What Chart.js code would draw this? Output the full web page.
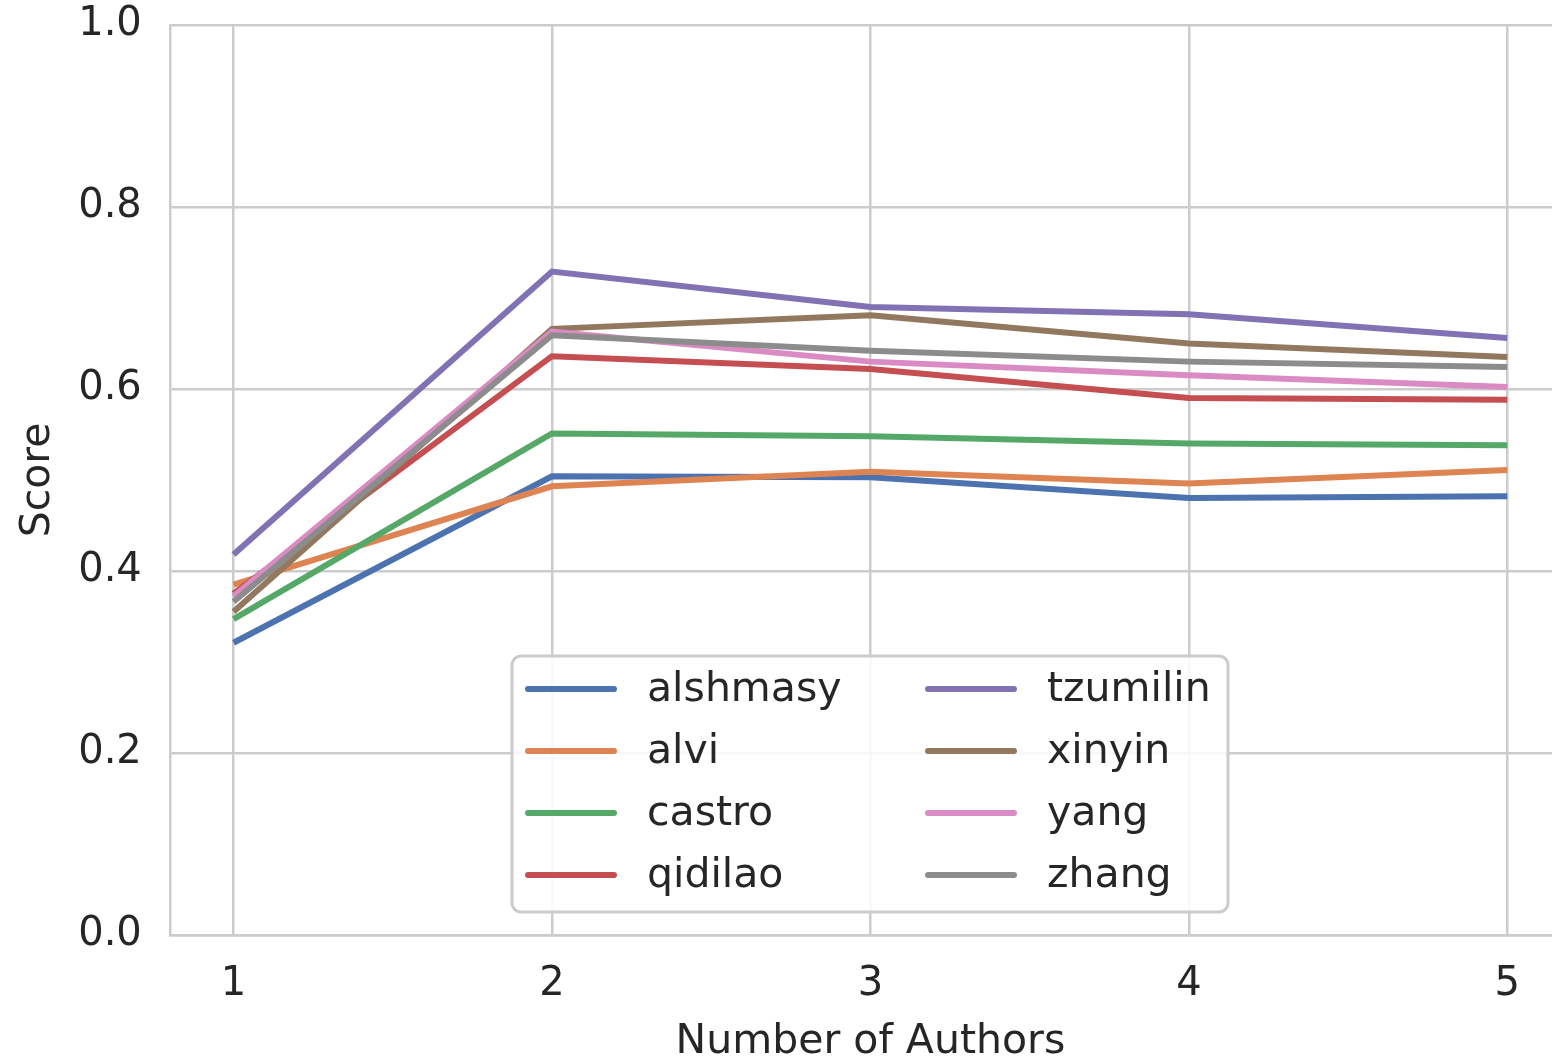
<!DOCTYPE html>
<html>
<head>
<meta charset="utf-8">
<script src="https://cdn.jsdelivr.net/npm/chart.js@4.4.1/dist/chart.umd.min.js"></script>
<style>
  html, body { margin: 0; padding: 0; background: #fff; overflow: hidden; }
  #wrap { width: 1552px; height: 1060px; overflow: hidden; position: relative; }
  #chart { position: absolute; left: 0; top: -27px; }
</style>
</head>
<body>
<div id="wrap"><canvas id="chart" width="1600" height="1094"></canvas></div>
<script>
// number of authors (x axis)
const authorCounts = [1, 2, 3, 4, 5];
const yTicks = [0, 0.2, 0.4, 0.6, 0.8, 1.0];

// score per author count
const alshmasy = [0.321, 0.504, 0.503, 0.480, 0.482];
const alvi     = [0.385, 0.493, 0.509, 0.496, 0.511];
const castro   = [0.347, 0.551, 0.548, 0.540, 0.538];
const qidilao  = [0.375, 0.636, 0.622, 0.590, 0.588];
const tzumilin = [0.418, 0.729, 0.690, 0.682, 0.656];
const xinyin   = [0.355, 0.666, 0.681, 0.650, 0.635];
const yang     = [0.372, 0.663, 0.630, 0.615, 0.602];
const zhang    = [0.366, 0.659, 0.642, 0.630, 0.624];

const seriesNames = ['alshmasy', 'alvi', 'castro', 'qidilao', 'tzumilin', 'xinyin', 'yang', 'zhang'];
const seriesValues = [alshmasy, alvi, castro, qidilao, tzumilin, xinyin, yang, zhang];
const colors = ['#4C72B0', '#DD8452', '#55A868', '#C44E52', '#8172B3', '#937860', '#DA8BC3', '#8C8C8C'];

const FONT = "'DejaVu Sans', sans-serif";
const TEXT = '#262626';
const GRID = '#cccccc';

const datasets = seriesNames.map((name, i) => ({
  label: name,
  data: authorCounts.map((x, j) => ({ x: x, y: seriesValues[i][j] })),
  borderColor: colors[i],
  backgroundColor: colors[i],
  borderWidth: 6,
  pointRadius: 0,
  tension: 0,
  order: seriesNames.length - i // later series drawn on top, like matplotlib
}));

// legend in two columns (4 rows each), drawn on the canvas
const gridLegend = {
  id: 'gridLegend',
  afterDraw(chart) {
    const ctx = chart.ctx;
    const off = 27; // canvas is shifted up by this much
    const bx = 512, by = 656 + off, bw = 716, bh = 256, r = 9;
    ctx.save();
    ctx.beginPath();
    ctx.moveTo(bx + r, by);
    ctx.arcTo(bx + bw, by, bx + bw, by + bh, r);
    ctx.arcTo(bx + bw, by + bh, bx, by + bh, r);
    ctx.arcTo(bx, by + bh, bx, by, r);
    ctx.arcTo(bx, by, bx + bw, by, r);
    ctx.closePath();
    ctx.fillStyle = 'rgba(255,255,255,0.85)';
    ctx.fill();
    ctx.lineWidth = 3;
    ctx.strokeStyle = GRID;
    ctx.stroke();

    ctx.font = "41px " + FONT;
    ctx.textBaseline = 'middle';
    ctx.textAlign = 'left';
    chart.data.datasets.forEach((ds, i) => {
      const col = Math.floor(i / 4), row = i % 4;
      const hx = 528 + col * 400;
      const y = 689 + off + row * 62;
      ctx.beginPath();
      ctx.lineWidth = 6;
      ctx.lineCap = 'round';
      ctx.strokeStyle = ds.borderColor;
      ctx.moveTo(hx, y);
      ctx.lineTo(hx + 86, y);
      ctx.stroke();
      ctx.fillStyle = TEXT;
      ctx.fillText(ds.label, hx + 119, y + 1);
    });
    ctx.restore();
  }
};

new Chart(document.getElementById('chart'), {
  type: 'line',
  data: { datasets: datasets },
  plugins: [gridLegend],
  options: {
    responsive: false,
    animation: false,
    layout: { padding: { left: 14, right: 29, top: 4, bottom: 0 } },
    plugins: {
      legend: { display: false },
      tooltip: { enabled: false }
    },
    scales: {
      x: {
        type: 'linear',
        min: 0.8,
        max: 5.2,
        afterBuildTicks: (scale) => { scale.ticks = authorCounts.map(v => ({ value: v })); },
        ticks: {
          color: TEXT,
          font: { family: FONT, size: 40 },
          padding: 26,
          callback: (v) => String(v)
        },
        grid: { color: GRID, lineWidth: 2.5, drawTicks: false },
        border: { display: true, color: GRID, width: 2.5 },
        title: {
          display: true,
          text: 'Number of Authors',
          color: TEXT,
          font: { family: FONT, size: 41 },
          padding: { top: -17, bottom: 0 }
        }
      },
      y: {
        min: 0,
        max: 1,
        afterBuildTicks: (scale) => { scale.ticks = yTicks.map(v => ({ value: v })); },
        ticks: {
          color: TEXT,
          font: { family: FONT, size: 40 },
          padding: 28,
          callback: (v) => v.toFixed(1)
        },
        grid: { color: GRID, lineWidth: 2.5, drawTicks: false },
        border: { display: true, color: GRID, width: 2.5 },
        title: {
          display: true,
          text: 'Score',
          color: TEXT,
          font: { family: FONT, size: 41 },
          padding: { top: 0, bottom: -13 }
        }
      }
    }
  }
});
</script>
</body>
</html>
